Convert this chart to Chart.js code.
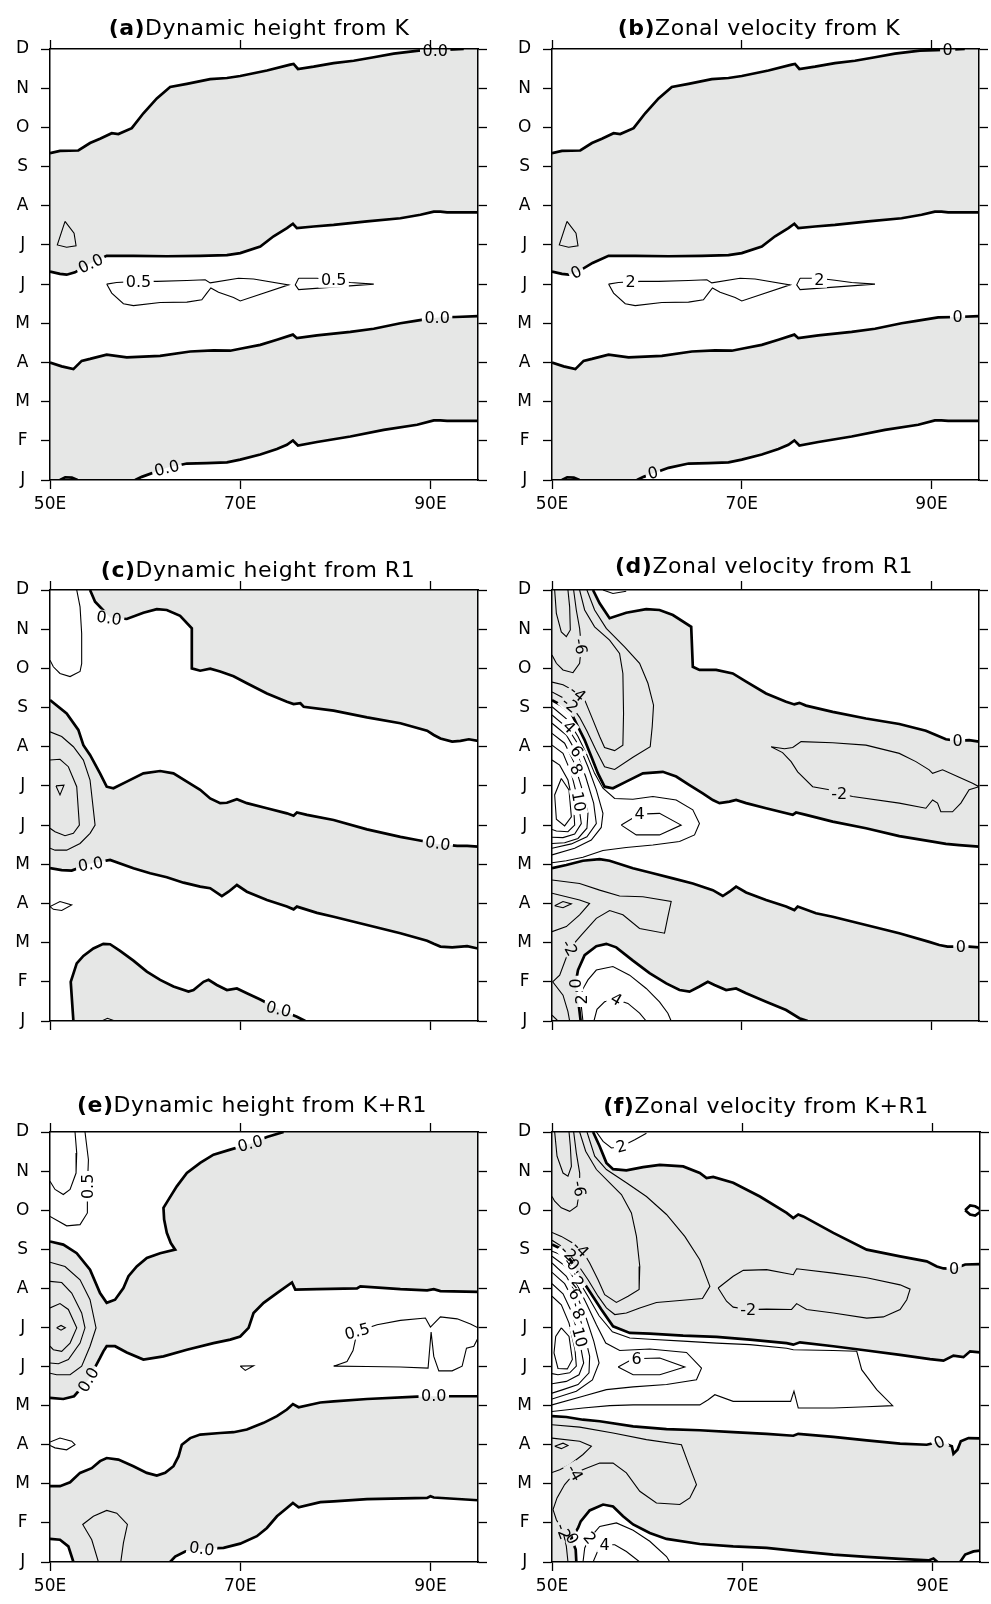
<!DOCTYPE html>
<html lang="en">
<head>
<meta charset="UTF-8">
<title>Dynamic height and zonal velocity</title>
<script src="https://cdn.jsdelivr.net/npm/chart.js"></script>
<style>
  body { margin: 0; background: #fff; width: 991px; height: 1604px; position: relative; overflow: hidden; }
  canvas { position: absolute; }
</style>
</head>
<body>
<script>
// axes
const MONTHS = ['J', 'F', 'M', 'A', 'M', 'J', 'J', 'A', 'S', 'O', 'N', 'D'];
const X_TICKS = [50, 70, 90];
const X_MIN = 50, X_MAX = 95, Y_MIN = 0, Y_MAX = 11;

// (a)/(b) contours from K  [lon, month]
const K_C1 = [[50,8.34],[51.05,8.4],[52.98,8.41],[54.21,8.6],[55.26,8.71],[56.49,8.85],[57.19,8.83],[58.6,8.98],[59.82,9.36],[61.23,9.74],[62.63,10.03],[64.39,10.11],[66.84,10.23],[68.6,10.26],[70,10.31],[72.81,10.45],[75.26,10.6],[75.61,10.62],[76.07,10.49],[77.72,10.55],[79.82,10.64],[81.93,10.7],[84.04,10.79],[86.14,10.88],[88.77,10.96],[90.5,10.97],[92.46,10.99],[93.5,11]];
const K_C2 = [[50,5.32],[51.05,5.26],[51.75,5.24],[52.63,5.3],[54.28,5.54],[55.96,5.72],[58.77,5.72],[62.28,5.71],[65.79,5.72],[68.6,5.74],[70,5.79],[72.11,5.96],[73.51,6.22],[74.91,6.43],[75.54,6.54],[75.96,6.43],[77.72,6.47],[79.82,6.51],[83.33,6.6],[86.84,6.68],[88.95,6.77],[90.35,6.85],[91.05,6.85],[91.75,6.83],[95,6.83]];
const K_C3 = [[50,3.0],[51.23,2.9],[52.46,2.83],[53.33,3.04],[54.21,3.09],[55.96,3.2],[58.07,3.13],[61.58,3.17],[64.74,3.28],[67.19,3.31],[68.95,3.3],[70,3.35],[72.11,3.45],[73.86,3.58],[75.54,3.71],[75.96,3.62],[78.07,3.69],[81.58,3.78],[84.04,3.86],[86.84,4.0],[88.42,4.06],[90.7,4.15],[92.63,4.16],[95,4.18]];
const K_C4 = [[58.95,0],[59.65,0.08],[62.28,0.31],[64.39,0.42],[66.49,0.43],[68.6,0.45],[70,0.52],[72.11,0.65],[73.86,0.79],[74.91,0.9],[75.54,1.01],[76.07,0.88],[78.07,0.97],[81.58,1.11],[85.09,1.28],[88.6,1.41],[90.35,1.52],[91.05,1.52],[91.75,1.51],[95,1.51]];
const K_BLOB = [[51.05,0],[51.6,0.07],[52.3,0.06],[52.9,0]];
const K_LOOP = [[51.58,6.6],[50.77,6.0],[51.75,5.94],[52.74,5.98],[52.53,6.3],[51.58,6.6]];
const K_POS1 = [[55.96,5.0],[57.0,5.04],[59.3,5.07],[61.23,5.07],[64.39,5.09],[66.32,5.11],[66.84,5.03],[69.82,5.15],[71.4,5.13],[75.09,4.98],[70,4.57],[69.3,4.66],[67.72,4.79],[66.91,4.9],[66.49,4.77],[65.96,4.6],[64.39,4.54],[61.58,4.53],[58.77,4.45],[57.72,4.5],[56.49,4.77],[55.96,5.0]];
const K_POS2 = [[76.14,5.15],[78.07,5.15],[79.82,5.1],[81.58,5.04],[84.04,5.0],[76.14,4.86],[75.79,4.98],[76.14,5.15]];
const A_LABELS = [[90.5,10.95,'0.0',0],[54.28,5.52,'0.0',-25],[90.7,4.15,'0.0',0],[62.28,0.3,'0.0',-14],[59.3,5.06,'0.5',0],[79.82,5.1,'0.5',0]];
const B_LABELS = [[91.7,10.98,'0',0],[52.56,5.3,'0',-25],[92.74,4.16,'0',0],[60.63,0.18,'0',-14],[58.28,5.05,'2',0],[78.18,5.1,'2',0]];

// (c) dynamic height from R1
const R1H_C1 = [[54.21,11],[54.74,10.7],[56.32,10.3],[58.07,10.26],[59.82,10.42],[61.23,10.51],[62.28,10.49],[63.68,10.34],[64.91,10.02],[64.91,9.0],[65.79,8.94],[66.84,8.99],[67.89,8.92],[69.3,8.8],[70.7,8.62],[72.81,8.36],[74.91,8.15],[75.61,8.09],[76.32,8.11],[76.67,8.02],[79.82,7.92],[83.33,7.75],[86.84,7.6],[89.65,7.41],[90.35,7.3],[91.05,7.21],[92.28,7.13],[93.16,7.15],[94.04,7.19],[95,7.15]];
const R1H_C2 = [[50,8.19],[51.75,7.85],[52.98,7.43],[53.51,7.04],[54.21,6.79],[55.26,6.32],[55.96,5.98],[56.67,5.94],[58.07,6.11],[59.82,6.32],[61.58,6.38],[62.98,6.32],[64.39,6.11],[65.79,5.9],[66.84,5.68],[67.89,5.56],[68.6,5.57],[69.65,5.66],[70.7,5.56],[72.81,5.43],[74.91,5.3],[75.61,5.24],[75.96,5.32],[77.02,5.26],[79.82,5.13],[83.33,4.89],[86.84,4.7],[88.6,4.62],[90.77,4.52],[92.81,4.47],[93.86,4.47],[95,4.45]];
const R1H_C3 = [[50,3.9],[51.23,3.85],[52.28,3.84],[54.28,4.02],[56.32,4.11],[58.77,3.9],[60.53,3.77],[62.28,3.67],[64.04,3.53],[65.79,3.43],[66.84,3.39],[68.07,3.19],[68.77,3.3],[69.65,3.47],[70.7,3.3],[72.81,3.09],[74.91,2.92],[75.61,2.85],[75.96,2.92],[78.07,2.76],[79.82,2.66],[83.33,2.45],[86.84,2.24],[89.65,2.05],[90.35,1.97],[91.05,1.9],[92.28,1.88],[93.86,1.91],[95,1.85]];
const R1H_C4 = [[52.46,0],[52.18,1.0],[52.81,1.47],[53.51,1.66],[54.56,1.85],[55.61,1.97],[56.32,1.96],[57.37,1.79],[58.77,1.54],[60.18,1.26],[61.58,1.05],[62.98,0.88],[64.56,0.75],[65.09,0.79],[66.14,1.0],[66.67,1.05],[67.54,0.92],[68.6,0.79],[69.65,0.83],[70.7,0.71],[72.11,0.55],[74.04,0.3],[75.96,0.11],[76.84,0]];
const R1H_BUMP = [[55.44,0],[56.04,0.07],[56.84,0]];
const R1H_P1 = [[52.81,11],[53.16,10.57],[53.33,9.89],[53.33,9.12],[53.16,8.92],[52.11,8.79],[51.05,8.87],[50.35,9.04],[50,9.21]];
const R1H_P2 = [[50,2.92],[51.05,3.05],[52.28,2.96],[51.23,2.82],[50.35,2.85],[50,2.92]];
const R1H_N1 = [[50,7.38],[51.23,7.26],[52.46,7.0],[53.51,6.66],[54.21,6.15],[54.74,5.0],[54.21,4.79],[53.16,4.53],[51.75,4.36],[50.53,4.36],[50,4.41]];
const R1H_N2 = [[50,6.66],[51.05,6.68],[51.93,6.49],[52.81,5.98],[53.09,5.0],[52.46,4.79],[51.58,4.73],[50.53,4.83],[50,4.92]];
const R1H_N3 = [[50.63,6.0],[51.47,6.02],[51.05,5.77],[50.63,6.0]];
const C_LABELS = [[56.2,10.28,'0.0',8],[90.77,4.53,'0.0',8],[54.28,4.0,'0.0',-10],[74.04,0.3,'0.0',14]];

// (d) zonal velocity from R1
const R1U_D1 = [[54.32,11],[55.02,10.66],[56.07,10.28],[57.82,10.42],[59.93,10.51],[61.33,10.49],[62.74,10.36],[64.67,10.06],[64.84,9.04],[65.54,8.96],[67.3,8.96],[69.05,8.87],[70.46,8.66],[72.56,8.36],[74.67,8.15],[75.54,8.08],[76.07,8.12],[76.77,8.05],[79.58,7.89],[83.09,7.72],[86.6,7.58],[89.4,7.41],[90.46,7.3],[91.51,7.19],[92.74,7.15],[93.96,7.17],[95,7.13]];
const R1U_D2 = [[50,8.19],[50.98,8.06],[52.04,7.85],[52.74,7.51],[53.44,7.17],[54.14,6.75],[54.84,6.32],[55.54,5.98],[56.42,5.94],[57.82,6.11],[59.58,6.32],[61.68,6.36],[63.09,6.24],[64.49,6.02],[65.89,5.81],[66.95,5.64],[67.65,5.56],[68.7,5.6],[69.4,5.64],[70.46,5.56],[72.56,5.43],[75.37,5.26],[75.72,5.32],[76.77,5.26],[79.58,5.09],[83.09,4.92],[86.6,4.72],[90.11,4.58],[91.51,4.52],[92.91,4.49],[95,4.45]];
const R1U_D3 = [[50,3.9],[51.51,3.98],[53.26,4.09],[55.02,4.13],[56.07,4.09],[58.53,3.9],[60.63,3.77],[62.74,3.64],[64.84,3.51],[66.95,3.34],[68,3.19],[68.7,3.3],[69.4,3.43],[70.46,3.28],[72.56,3.09],[74.67,2.92],[75.54,2.83],[75.89,2.92],[77.82,2.75],[79.58,2.66],[83.09,2.45],[86.6,2.24],[89.75,2.02],[90.81,1.94],[91.68,1.9],[93.09,1.9],[93.96,1.9],[95,1.88]];
const R1U_D4 = [[53.02,0],[52.84,0.37],[52.49,0.96],[52.74,1.3],[53.44,1.68],[54.67,1.91],[55.72,1.97],[56.77,1.88],[58.53,1.54],[60.28,1.22],[62.04,0.96],[63.44,0.79],[64.49,0.75],[65.54,0.88],[66.42,1.0],[67.12,0.92],[68.35,0.79],[69.4,0.83],[70.46,0.71],[72.56,0.49],[74.67,0.28],[76.07,0.07],[76.95,0]];
const R1U_N1 = [[53.68,11],[54.49,10.49],[55.72,10.02],[57.65,9.55],[59.23,9.13],[60.11,8.62],[60.7,8.06],[60.56,7.51],[60.35,7.0],[58.53,6.73],[56.6,6.42],[55.54,6.49],[54.67,6.9],[53.68,7.4],[52.91,7.75],[52.04,8.05],[51.16,8.25],[50,8.4]];
const R1U_N2 = [[52.91,11],[53.44,10.49],[54.49,10.06],[56.07,9.72],[57.12,9.38],[57.47,8.87],[57.54,7.85],[57.47,7.04],[56.6,6.9],[55.54,6.98],[55.02,7.26],[54.32,7.68],[53.44,8.2],[52.39,8.42],[51.16,8.58],[50,8.65]];
const R1U_N3 = [[52.28,11],[52.56,10.49],[52.91,10.02],[53.09,9.56],[52.91,9.13],[52.21,8.89],[51.16,8.96],[50.46,9.13],[50,9.34]];
const R1U_N4 = [[50.28,11],[50.46,10.4],[50.98,9.93],[51.51,9.81],[51.93,9.98],[51.86,10.57],[51.68,11]];
const R1U_N5 = [[73.09,7.0],[74.5,6.95],[75.37,6.98],[76.25,7.13],[79.58,7.1],[83.09,7.04],[86.6,6.83],[88.35,6.62],[89.75,6.41],[90.11,6.32],[91.16,6.41],[92.91,6.22],[94.32,6.07],[95,5.98],[93.96,5.9],[93.09,5.56],[92.21,5.34],[90.98,5.34],[90.63,5.56],[90.11,5.64],[89.4,5.43],[86.6,5.56],[81.68,5.73],[80.28,5.81],[79.23,5.9],[77.47,5.98],[75.89,6.36],[75.2,6.62],[74.3,6.85],[73.09,7.0]];
const R1U_N6 = [[50,3.6],[52.91,3.51],[55.02,3.34],[57.12,3.19],[59.58,3.17],[62.56,3.05],[62.21,2.66],[61.86,2.24],[59.23,2.36],[57.47,2.71],[56.07,2.82],[54.67,2.62],[53.09,2.19],[51.86,1.85],[50.81,1.17],[50.07,1.0],[51.16,0.66],[51.68,0.24],[51.86,0]];
const R1U_N7 = [[50,3.26],[52.91,3.09],[53.96,3.0],[52.91,2.71],[51.51,2.41],[50,2.28]];
const R1U_N8 = [[50.28,2.94],[51.16,3.05],[52.04,2.99],[51.16,2.89],[50.28,2.94]];
const R1U_N9 = [[50,0.15],[50.63,0]];
const R1U_P1 = [[55.37,11],[56.42,10.91],[57.82,10.97]];
const R1U_P2 = [[50,8.02],[51.68,7.68],[52.74,7.26],[53.61,6.83],[54.49,6.32],[55.37,5.94],[56.6,5.68],[58.53,5.66],[60.63,5.73],[63.09,5.64],[64.84,5.39],[65.54,5.04],[65.02,4.75],[63.44,4.58],[60.63,4.49],[57.82,4.43],[55.37,4.35],[53.26,4.18],[51.51,4.09],[50,4.04]];
const R1U_P4 = [[57.3,5.0],[59.23,5.28],[61.33,5.3],[63.61,5.0],[61.33,4.75],[58.88,4.75],[57.3,5.0]];
const R1U_K4 = [[50,7.81],[51.68,7.47],[52.91,7.0],[53.79,6.49],[54.67,5.9],[55.37,5.3],[55.19,4.94],[54.14,4.62],[52.39,4.41],[50,4.24]];
const R1U_K6 = [[50,7.6],[51.51,7.3],[52.63,6.83],[53.54,6.24],[54.39,5.56],[54.67,5.04],[53.68,4.7],[52.04,4.52],[50,4.41]];
const R1U_K8 = [[50,7.34],[51.33,7.09],[52.28,6.62],[53.09,5.98],[53.79,5.3],[53.68,4.92],[52.74,4.66],[51.33,4.55],[50,4.53]];
const R1U_K10 = [[50,7.04],[51.16,6.83],[52.04,6.32],[52.74,5.64],[53.09,5.04],[52.39,4.77],[51.16,4.68],[50,4.69]];
const R1U_K12 = [[50,6.66],[50.81,6.53],[51.68,6.15],[52.28,5.47],[52.39,5.0],[51.68,4.83],[50.46,4.85],[50,4.89]];
const R1U_K14 = [[50.98,6.19],[51.79,5.9],[52.04,5.21],[51.33,4.98],[50.46,5.15],[50.28,5.77],[50.98,6.19]];
const R1U_H2 = [[53.26,0],[53.09,0.37],[53.19,0.79],[53.79,1.05],[54.67,1.3],[56.42,1.39],[58.18,1.17],[59.93,0.83],[61.33,0.49],[62.21,0.2],[62.56,0]];
const R1U_H4 = [[54.42,0],[54.74,0.3],[55.54,0.49],[56.77,0.55],[58.0,0.45],[59.23,0.2],[59.93,0]];
const D_LABELS = [[53.0,9.56,'-6',80],[51.9,8.07,'-2',40],[52.7,8.36,'-4',40],[51.8,7.5,'4',45],[52.6,6.88,'6',55],[52.55,6.42,'8',60],[52.8,5.6,'10',80],[59.23,5.28,'4',0],[80.28,5.81,'-2',0],[92.74,7.15,'0',0],[93.09,1.9,'0',0],[51.86,1.87,'-2',60],[52.49,0.96,'0',-90],[53.12,0.55,'2',-90],[56.77,0.55,'4',30]];

// (e) dynamic height from K+R1
const KRH_E1 = [[74.56,11],[72.81,10.87],[71.05,10.7],[68.95,10.55],[67.19,10.42],[65.79,10.21],[64.39,9.95],[63.33,9.61],[62.46,9.27],[61.93,9.06],[62.0,8.76],[62.28,8.42],[62.7,8.16],[63.16,7.99],[61.58,7.9],[60.18,7.78],[59.12,7.56],[58.25,7.31],[57.72,7.01],[56.84,6.71],[55.96,6.63],[55.26,6.88],[54.21,7.48],[52.81,7.9],[51.4,8.12],[50,8.2]];
const KRH_E2 = [[50,4.2],[51.4,4.17],[52.53,4.24],[54.04,4.66],[55.26,5.22],[55.61,5.39],[55.96,5.52],[56.84,5.52],[58.07,5.36],[59.82,5.18],[61.93,5.26],[64.39,5.43],[67.19,5.6],[68.95,5.69],[70,5.77],[70.88,5.99],[71.4,6.37],[72.46,6.63],[73.86,6.88],[75.44,7.15],[75.79,6.97],[78.07,6.98],[82.28,7.0],[82.63,7.05],[86.84,6.98],[89.65,6.95],[90.35,6.98],[91.05,6.93],[95,6.91]];
const KRH_E3 = [[95,4.24],[92.46,4.24],[90.35,4.24],[88.6,4.23],[83.33,4.17],[79.82,4.11],[78.42,4.08],[76.14,3.96],[75.54,4.04],[74.91,3.9],[73.86,3.73],[72.46,3.56],[70.7,3.39],[69.3,3.32],[67.89,3.3],[65.79,3.26],[64.74,3.17],[63.86,3.0],[63.51,2.7],[62.98,2.45],[62.11,2.28],[61.23,2.21],[60.18,2.28],[58.77,2.45],[57.19,2.62],[55.96,2.66],[55.26,2.58],[54.39,2.4],[53.16,2.28],[52.11,2.04],[51.05,1.94],[50,1.94]];
const KRH_E4 = [[95,1.58],[90.35,1.65],[90.0,1.68],[89.65,1.64],[83.33,1.61],[79.82,1.55],[78.42,1.53],[76.14,1.4],[75.54,1.51],[74.91,1.38],[73.86,1.17],[72.81,0.87],[71.75,0.66],[70,0.47],[68.25,0.36],[65.96,0.34],[64.21,0.27],[63.16,0.14],[62.63,0]];
const KRH_E5 = [[50,0.59],[51.05,0.57],[51.93,0.4],[52.46,0]];
const KRH_P1 = [[52.63,11],[52.81,10.46],[52.74,9.95],[52.11,9.53],[51.4,9.4],[50.53,9.53],[50,9.74]];
const KRH_P2 = [[53.68,11],[54.04,10.29],[53.93,9.61],[53.93,8.93],[53.16,8.63],[51.75,8.6],[50,8.84]];
const KRH_P3 = [[70,5.01],[71.4,5.02],[70.53,4.9],[70,5.01]];
const KRH_P4 = [[79.82,5.01],[81.23,5.13],[81.86,5.41],[82.3,5.9],[84.39,6.07],[86.84,6.18],[89.47,6.24],[90.0,6.01],[91.05,6.27],[92.81,6.22],[94.21,6.09],[95,5.99],[95,5.73],[94.56,5.52],[93.79,5.47],[93.33,5.01],[92.28,4.89],[90.88,4.89],[90.35,5.26],[90.07,5.88],[89.75,4.96],[86.84,4.99],[83.33,5.0],[79.82,5.01]];
const KRH_P5 = [[50,3.07],[51.05,3.17],[52.28,3.09],[52.63,3.0],[51.75,2.87],[50.53,2.92],[50,2.98]];
const KRH_N1 = [[50,7.67],[51.58,7.56],[53.16,7.22],[54.21,6.71],[54.84,5.99],[54.21,5.52],[53.33,5.01],[52.11,4.79],[50.7,4.79],[50,4.83]];
const KRH_N2 = [[50,7.18],[51.23,7.15],[52.28,6.88],[53.33,6.37],[53.68,5.99],[53.16,5.6],[51.93,5.18],[50.88,5.07],[50,5.09]];
const KRH_N3 = [[50,6.5],[51.05,6.61],[51.93,6.46],[52.81,5.99],[52.11,5.6],[51.23,5.39],[50.35,5.43],[50,5.52]];
const KRH_N4 = [[50.7,5.99],[51.16,6.05],[51.61,5.99],[51.16,5.93],[50.7,5.99]];
const KRH_N5 = [[55.09,0],[54.39,0.57],[53.44,0.96],[54.56,1.17],[55.96,1.32],[57.02,1.25],[58.14,0.96],[57.72,0.49],[57.44,0]];
const E_LABELS = [[71.05,10.7,'0.0',-15],[53.93,9.61,'0.5',-90],[54.04,4.66,'0.0',-60],[90.35,4.24,'0.0',0],[65.96,0.34,'0.0',8],[82.3,5.9,'0.5',-15]];

// (f) zonal velocity from K+R1
const KRU_F1 = [[54.32,11],[55.02,10.63],[55.72,10.21],[56.42,10.05],[57.82,10.02],[59.58,10.1],[61.33,10.16],[63.79,10.12],[65.54,9.95],[66.25,9.82],[66.95,9.85],[69.05,9.7],[71.86,9.35],[74.67,8.93],[75.37,8.8],[75.89,8.89],[76.42,8.84],[79.58,8.42],[83.09,7.99],[86.6,7.82],[89.4,7.69],[90.46,7.56],[91.16,7.51],[92.28,7.5],[93.44,7.61],[95,7.62]];
const KRU_F2 = [[50,8.12],[51.16,7.99],[52.04,7.69],[52.91,7.31],[53.96,6.92],[55.19,6.46],[56.42,6.03],[58.18,5.86],[60.28,5.84],[63.79,5.79],[67.3,5.76],[70.81,5.69],[74.67,5.6],[75.37,5.56],[76.07,5.62],[79.58,5.52],[83.09,5.41],[86.6,5.3],[89.75,5.19],[91.16,5.15],[92.21,5.28],[93.26,5.24],[93.96,5.39],[95,5.36]];
const KRU_F3 = [[50,3.73],[51.51,3.71],[53.26,3.64],[55.02,3.6],[58.53,3.47],[62.04,3.4],[65.54,3.37],[69.05,3.32],[72.56,3.28],[75.37,3.23],[75.89,3.28],[79.58,3.2],[83.09,3.11],[86.6,3.03],[89.4,3.0],[90.74,3.08],[92.04,2.96],[92.21,2.77],[92.63,2.87],[92.98,3.09],[93.79,3.17],[95,3.16]];
const KRU_F4 = [[52.56,0],[52.49,0.32],[52.04,0.59],[52.74,0.87],[53.02,1.04],[53.96,1.32],[55.37,1.47],[56.42,1.42],[57.47,1.17],[58.53,0.96],[60.28,0.74],[62.04,0.59],[65.54,0.46],[69.05,0.4],[72.56,0.36],[76.07,0.27],[79.58,0.19],[83.09,0.13],[86.6,0.08],[89.58,0.04],[90.11,0.09],[90.53,0]];
const KRU_F5 = [[92.91,0],[93.44,0.19],[94.32,0.27],[95,0.29]];
const KRU_RING = [[93.44,9.0],[93.96,9.12],[94.49,9.1],[95,9.03],[95,8.95],[94.49,8.86],[93.96,8.89],[93.44,9.0]];
const KRU_P1 = [[54.67,11],[55.37,10.76],[56.25,10.59],[57.3,10.63],[58.7,10.8],[59.93,10.97]];
const KRU_N1 = [[53.68,11],[54.49,10.38],[55.72,10.04],[57.82,9.7],[59.93,9.35],[62.04,8.89],[63.96,8.33],[65.54,7.73],[66.6,7.05],[65.82,6.74],[63.44,6.69],[60.98,6.64],[59.23,6.5],[57.82,6.37],[56.6,6.33],[55.72,6.5],[54.84,6.8],[53.79,7.22],[52.84,7.56],[51.86,7.86],[50.98,8.08],[50,8.23]];
const KRU_N2 = [[52.91,11],[53.54,10.51],[54.67,10.04],[56.07,9.7],[57.3,9.4],[58.35,8.93],[58.88,8.33],[59.23,7.56],[59.16,6.97],[58.0,6.8],[56.77,6.64],[55.54,6.84],[54.84,7.22],[53.96,7.65],[53.09,8.01],[52.04,8.18],[50.98,8.33],[50,8.43]];
const KRU_N3 = [[52.28,11],[52.56,10.46],[52.91,9.95],[52.91,9.53],[52.63,9.1],[51.86,8.97],[50.98,9.06],[50.28,9.23],[50,9.35]];
const KRU_N4 = [[50.28,11],[50.53,10.38],[51.16,9.95],[51.68,9.87],[52.04,10.12],[51.93,10.63],[51.79,11]];
const KRU_N5 = [[67.47,7.01],[69.05,7.31],[70.11,7.46],[72.56,7.48],[75.37,7.35],[75.72,7.5],[79.58,7.39],[83.09,7.27],[86.6,7.09],[87.65,6.98],[87.3,6.71],[86.6,6.46],[84.84,6.27],[83.09,6.24],[79.58,6.37],[76.77,6.46],[75.72,6.61],[75.19,6.46],[72.56,6.47],[70.63,6.46],[69.05,6.52],[68.35,6.67],[67.47,7.01]];
const KRU_N6 = [[50,3.51],[52.91,3.45],[56.42,3.3],[59.93,3.13],[63.61,3.0],[64.32,2.53],[65.19,1.98],[64.49,1.64],[63.44,1.47],[60.98,1.51],[59.23,1.81],[57.82,2.28],[56.42,2.53],[55.02,2.53],[53.61,2.4],[52.39,2.28],[51.33,1.98],[50.53,1.64],[50.11,1.34],[50.46,1.08],[51.16,0.78],[51.51,0.4],[51.68,0]];
const KRU_N7 = [[50,3.17],[52.91,3.09],[54.14,2.96],[53.26,2.75],[51.86,2.49],[50.81,2.36],[50,2.29]];
const KRU_N8 = [[50.28,2.96],[51.16,3.04],[51.68,2.98],[50.98,2.9],[50.28,2.96]];
const KRU_P2 = [[50,7.95],[51.16,7.84],[51.96,7.56],[52.84,7.18],[53.82,6.78],[54.95,6.3],[56.35,5.89],[58.18,5.73],[60.28,5.7],[63.79,5.65],[67.3,5.6],[70.81,5.56],[74.67,5.47],[75.37,5.43],[79.58,5.41],[82.04,5.39],[82.56,4.92],[84.14,4.41],[85.82,4.0],[83.09,3.97],[79.58,3.94],[75.89,3.94],[75.44,4.37],[75.09,4.11],[69.05,4.11],[67.12,4.28],[66.42,4.15],[65.54,4.02],[62.04,4.02],[58.53,4.02],[56.07,4.0],[53.26,3.94],[50,3.85]];
const KRU_P4 = [[50,7.82],[51.68,7.52],[52.74,7.05],[53.68,6.58],[54.67,6.07],[55.65,5.6],[57.12,5.41],[60.28,5.45],[64.14,5.36],[65.72,4.96],[65.19,4.66],[62.04,4.54],[58.53,4.48],[55.72,4.41],[53.26,4.24],[50,4.02]];
const KRU_P6 = [[50,7.65],[51.51,7.31],[52.56,6.84],[53.54,6.28],[54.39,5.65],[54.95,5.09],[54.25,4.66],[52.56,4.37],[50,4.17]];
const KRU_P6L = [[56.95,4.99],[58.53,5.2],[61.33,5.22],[63.96,4.99],[61.33,4.79],[58.53,4.79],[56.95,4.99]];
const KRU_P8 = [[50,7.41],[51.33,7.12],[52.39,6.63],[53.26,5.99],[53.96,5.26],[53.89,4.84],[52.74,4.54],[51.16,4.41],[50,4.32]];
const KRU_P10 = [[50,7.12],[51.16,6.86],[52.11,6.37],[52.84,5.73],[53.33,5.09],[52.84,4.79],[51.51,4.62],[50,4.56]];
const KRU_P12 = [[50,6.8],[50.98,6.58],[51.79,6.11],[52.42,5.43],[52.56,5.01],[51.86,4.84],[50.63,4.79],[50,4.82]];
const KRU_P14 = [[50.98,5.99],[51.79,5.77],[52.14,5.18],[51.61,4.94],[50.63,4.95],[50.21,5.35],[50.39,5.77],[50.98,5.99]];
const KRU_H2 = [[53.26,0],[53.44,0.36],[53.96,0.61],[55.02,0.91],[56.77,1.0],[58.53,0.81],[60.28,0.53],[62.04,0.14],[62.39,0]];
const KRU_H4 = [[54.32,0],[54.84,0.3],[55.54,0.44],[56.6,0.44],[57.82,0.27],[59.23,0]];
const F_LABELS = [[57.3,10.63,'2',-15],[52.85,9.55,'-6',80],[53.0,8.0,'-4',45],[51.7,7.9,'-2',45],[52.2,7.6,'0',50],[52.7,7.15,'2',50],[52.4,6.85,'6',55],[52.75,6.35,'8',60],[52.9,5.75,'10',75],[58.9,5.2,'6',0],[70.63,6.46,'-2',0],[92.28,7.5,'0',0],[90.74,3.06,'0',-25],[52.39,2.28,'-4',60],[51.16,0.78,'-2',70],[52.1,0.6,'0',60],[53.96,0.61,'2',50],[55.54,0.44,'4',0]];

// shaded (negative) regions built from the zero contours and the frame
const K_SHADE = [[...K_C1, [X_MAX, Y_MAX], ...rev(K_C2)], [...K_C3, ...rev(K_C4), [X_MIN, Y_MIN]]];
const C_SHADE = [[...R1H_C1, [X_MAX, Y_MAX]], [...R1H_C2, ...rev(R1H_C3)], R1H_C4];
const D_SHADE = [[...R1U_D1, ...rev(R1U_D2), [X_MIN, Y_MAX]], [...R1U_D3, [X_MAX, Y_MIN], ...rev(R1U_D4), [X_MIN, Y_MIN]]];
const E_SHADE = [[...KRH_E1, ...KRH_E2, [X_MAX, Y_MAX]], [...KRH_E3, ...KRH_E5, ...rev(KRH_E4)]];
const F_SHADE = [[...KRU_F1, ...rev(KRU_F2), [X_MIN, Y_MAX]], [...KRU_F3, ...rev(KRU_F5), ...rev(KRU_F4), [X_MIN, Y_MIN]]];

function rev(a) { return a.slice().reverse(); }

const FONT = "'DejaVu Sans', 'Liberation Sans', Arial, sans-serif";
const GRAY = '#e6e7e6';
const LABEL_PX = 16;
Chart.defaults.font.family = FONT;
Chart.defaults.font.size = 17;
Chart.defaults.color = '#000';

function pts(a) { return a.map(p => ({x: p[0], y: p[1]})); }

function shade(a) {
    return {data: pts(a.concat([a[0]])), borderWidth: 0, borderColor: 'rgba(0,0,0,0)',
        backgroundColor: GRAY, fill: 'shape', pointRadius: 0, tension: 0, order: 3};
}

function contour(a, thick) {
    return {data: pts(a), borderColor: '#000', borderWidth: thick ? 2.7 : 1.1, fill: false,
        pointRadius: 0, tension: 0, order: 1, isContour: true};
}

// cuts a gap in contour lines under each label, then writes the label
function labelPlugin(labels) {
    function boxes(chart) {
        const ctx = chart.ctx;
        ctx.save();
        ctx.font = LABEL_PX + 'px ' + FONT;
        const out = labels.map(l => ({
            px: chart.scales.x.getPixelForValue(l[0]),
            py: chart.scales.y.getPixelForValue(l[1]),
            w: ctx.measureText(l[2]).width + 5,
            h: 15,
            a: l[3] * Math.PI / 180,
            t: l[2]
        }));
        ctx.restore();
        return out;
    }
    return {
        id: 'clabels',
        beforeDatasetDraw(chart, args) {
            if (!chart.data.datasets[args.index].isContour) return;
            const ctx = chart.ctx;
            ctx.save();
            ctx.beginPath();
            ctx.rect(0, 0, chart.width, chart.height);
            for (const b of boxes(chart)) {
                const c = Math.cos(b.a), s = Math.sin(b.a), hw = b.w / 2, hh = b.h / 2;
                const cs = [[-hw, -hh], [hw, -hh], [hw, hh], [-hw, hh]]
                    .map(([u, v]) => [b.px + u * c - v * s, b.py + u * s + v * c]);
                ctx.moveTo(cs[0][0], cs[0][1]);
                for (let k = 1; k < 4; k++) ctx.lineTo(cs[k][0], cs[k][1]);
                ctx.closePath();
            }
            ctx.clip('evenodd');
        },
        afterDatasetDraw(chart, args) {
            if (chart.data.datasets[args.index].isContour) chart.ctx.restore();
        },
        afterDatasetsDraw(chart) {
            const ctx = chart.ctx;
            for (const b of boxes(chart)) {
                ctx.save();
                ctx.translate(b.px, b.py);
                ctx.rotate(b.a);
                ctx.font = LABEL_PX + 'px ' + FONT;
                ctx.fillStyle = '#000';
                ctx.textAlign = 'center';
                ctx.textBaseline = 'middle';
                ctx.fillText(b.t, 0, 1);
                ctx.restore();
            }
        }
    };
}

function titlePlugin(tag, text, cx, y) {
    return {
        id: 'ptitle',
        afterDraw(chart) {
            const ctx = chart.ctx;
            ctx.save();
            ctx.letterSpacing = '0.5px';
            ctx.fillStyle = '#000';
            ctx.textAlign = 'left';
            ctx.textBaseline = 'alphabetic';
            ctx.font = 'bold 22px ' + FONT;
            const w1 = ctx.measureText(tag).width;
            ctx.font = '22px ' + FONT;
            const w2 = ctx.measureText(text).width;
            const x0 = cx - (w1 + w2) / 2;
            ctx.font = 'bold 22px ' + FONT;
            ctx.fillText(tag, x0, y);
            ctx.font = '22px ' + FONT;
            ctx.fillText(text, x0 + w1, y);
            ctx.restore();
        }
    };
}

function makeScales(showX) {
    const grid = {drawOnChartArea: false, drawTicks: true, tickLength: 9, tickColor: '#000', tickWidth: 1.3};
    const border = {display: true, color: '#000', width: 1.5, z: 1};
    const xt = s => { s.ticks = X_TICKS.map(v => ({value: v})); };
    const yt = s => { s.ticks = MONTHS.map((m, i) => ({value: i})); };
    return {
        x: {type: 'linear', position: 'bottom', min: X_MIN, max: X_MAX, grid, border,
            afterBuildTicks: xt, afterFit: s => { s.height = 40; },
            ticks: {display: showX, callback: v => v + 'E', font: {family: FONT, size: 17}, padding: 5, maxRotation: 0, autoSkip: false}},
        x2: {type: 'linear', position: 'top', min: X_MIN, max: X_MAX, grid, border,
            afterBuildTicks: xt, afterFit: s => { s.height = 48; }, ticks: {display: false}},
        y: {type: 'linear', position: 'left', min: Y_MIN, max: Y_MAX, grid, border,
            afterBuildTicks: yt, afterFit: s => { s.width = 50; },
            ticks: {callback: v => MONTHS[v], font: {family: FONT, size: 17}, crossAlign: 'center', padding: 11, autoSkip: false}},
        y2: {type: 'linear', position: 'right', min: Y_MIN, max: Y_MAX, grid, border,
            afterBuildTicks: yt, afterFit: s => { s.width = 11; }, ticks: {display: false}}
    };
}

const PANELS = [
    {left: 0, top: 1, w: 428, h: 431, tag: '(a)', title: 'Dynamic height from K', tx: 259, ty: 34, showX: true,
        shades: K_SHADE, thick: [K_C1, K_C2, K_C3, K_C4, K_BLOB], thin: [K_LOOP, K_POS1, K_POS2], labels: A_LABELS},
    {left: 502, top: 1, w: 427, h: 431, tag: '(b)', title: 'Zonal velocity from K', tx: 257, ty: 34, showX: true,
        shades: K_SHADE, thick: [K_C1, K_C2, K_C3, K_C4, K_BLOB], thin: [K_LOOP, K_POS1, K_POS2], labels: B_LABELS},
    {left: 0, top: 542, w: 428, h: 431, tag: '(c)', title: 'Dynamic height from R1', tx: 258, ty: 35, showX: false,
        shades: C_SHADE, thick: [R1H_C1, R1H_C2, R1H_C3, R1H_C4],
        thin: [R1H_BUMP, R1H_P1, R1H_P2, R1H_N1, R1H_N2, R1H_N3], labels: C_LABELS},
    {left: 502, top: 542, w: 427, h: 431, tag: '(d)', title: 'Zonal velocity from R1', tx: 262, ty: 31, showX: false,
        shades: D_SHADE, thick: [R1U_D1, R1U_D2, R1U_D3, R1U_D4],
        thin: [R1U_N1, R1U_N2, R1U_N3, R1U_N4, R1U_N5, R1U_N6, R1U_N7, R1U_N8, R1U_N9, R1U_P1, R1U_P2, R1U_P4,
            R1U_K4, R1U_K6, R1U_K8, R1U_K10, R1U_K12, R1U_K14, R1U_H2, R1U_H4], labels: D_LABELS},
    {left: 0, top: 1084, w: 428, h: 430, tag: '(e)', title: 'Dynamic height from K+R1', tx: 252, ty: 28, showX: true,
        shades: E_SHADE, thick: [KRH_E1, KRH_E2, KRH_E3, KRH_E4, KRH_E5],
        thin: [KRH_P1, KRH_P2, KRH_P3, KRH_P4, KRH_P5, KRH_N1, KRH_N2, KRH_N3, KRH_N4, KRH_N5], labels: E_LABELS},
    {left: 502, top: 1084, w: 428, h: 430, tag: '(f)', title: 'Zonal velocity from K+R1', tx: 264, ty: 29, showX: true,
        shades: F_SHADE, thick: [KRU_F1, KRU_F2, KRU_F3, KRU_F4, KRU_F5, KRU_RING],
        thin: [KRU_P1, KRU_N1, KRU_N2, KRU_N3, KRU_N4, KRU_N5, KRU_N6, KRU_N7, KRU_N8, KRU_P2, KRU_P4, KRU_P6,
            KRU_P6L, KRU_P8, KRU_P10, KRU_P12, KRU_P14, KRU_H2, KRU_H4], labels: F_LABELS}
];

PANELS.forEach(p => {
    const cv = document.createElement('canvas');
    cv.width = 50 + p.w + 11;
    cv.height = 48 + p.h + 40;
    cv.style.left = p.left + 'px';
    cv.style.top = p.top + 'px';
    document.body.appendChild(cv);

    const datasets = [
        ...p.shades.map(shade),
        ...p.thick.map(a => contour(a, true)),
        ...p.thin.map(a => contour(a, false))
    ];

    new Chart(cv.getContext('2d'), {
        type: 'line',
        data: {datasets},
        options: {
            responsive: false,
            animation: false,
            events: [],
            layout: {padding: 0},
            plugins: {legend: {display: false}, tooltip: {enabled: false}, title: {display: false}},
            scales: makeScales(p.showX)
        },
        plugins: [labelPlugin(p.labels), titlePlugin(p.tag, p.title, p.tx, p.ty)]
    });
});
</script>
</body>
</html>
